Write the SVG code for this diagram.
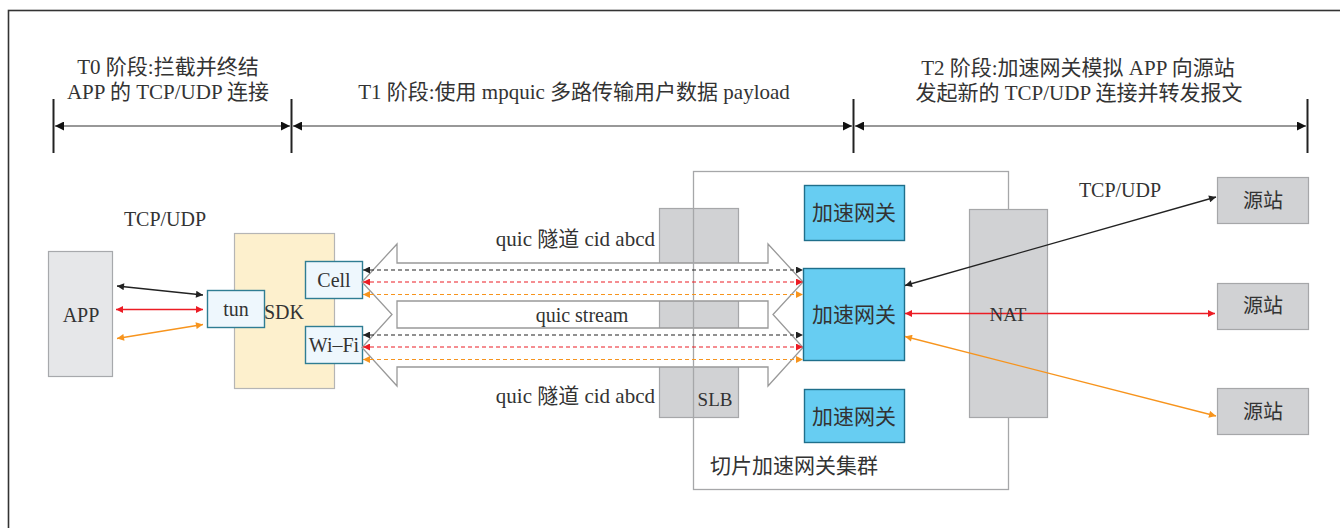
<svg xmlns="http://www.w3.org/2000/svg" width="1340" height="528" viewBox="0 0 1340 528">
  <style>
    text { font-family: 'Liberation Serif', 'Noto Sans CJK SC', serif; fill: #333; }
    .t21 { font-size: 21px; }
    .t20 { font-size: 20px; }
    .t19 { font-size: 19px; }
    .mid { text-anchor: middle; }
    .gray { fill: #d1d2d4; stroke: #a6a7a9; stroke-width: 1.2; }
    .blue { fill: #eef7fd; stroke: #2f7d93; stroke-width: 1.4; }
    .gw { fill: #67cdf2; stroke: #1f6f8b; stroke-width: 1.4; }
    .tick { stroke: #222; stroke-width: 2; }
    .phase { stroke: #333; stroke-width: 1.2; fill: none; }
    .dash { stroke-width: 1.2; stroke-dasharray: 4 3; fill: none; }
    .solid { stroke-width: 1.3; fill: none; }
    .k { stroke: #222; }
    .r { stroke: #ec1c24; }
    .o { stroke: #f7941d; }
  </style>
  <defs>
    <marker id="mPhase" viewBox="0 0 10 10" refX="10" refY="5" markerUnits="userSpaceOnUse" markerWidth="11" markerHeight="9" orient="auto-start-reverse">
      <path d="M0,0 L10,5 L0,10 Z" fill="#111"/>
    </marker>
    <marker id="mK" viewBox="0 0 10 10" refX="10" refY="5" markerUnits="userSpaceOnUse" markerWidth="9" markerHeight="7" orient="auto-start-reverse">
      <path d="M0,0 L10,5 L0,10 Z" fill="#222"/>
    </marker>
    <marker id="mR" viewBox="0 0 10 10" refX="10" refY="5" markerUnits="userSpaceOnUse" markerWidth="9" markerHeight="7" orient="auto-start-reverse">
      <path d="M0,0 L10,5 L0,10 Z" fill="#ec1c24"/>
    </marker>
    <marker id="mO" viewBox="0 0 10 10" refX="10" refY="5" markerUnits="userSpaceOnUse" markerWidth="9" markerHeight="7" orient="auto-start-reverse">
      <path d="M0,0 L10,5 L0,10 Z" fill="#f7941d"/>
    </marker>
  </defs>

  <rect width="1340" height="528" fill="#fff"/>
  <!-- outer frame -->
  <rect x="8.5" y="10.5" width="1340" height="530" fill="none" stroke="#333" stroke-width="1.6"/>

  <!-- phase timeline -->
  <g id="timeline">
    <line class="tick" x1="53.5" y1="99" x2="53.5" y2="153"/>
    <line class="tick" x1="291.5" y1="99" x2="291.5" y2="153"/>
    <line class="tick" x1="853.5" y1="99" x2="853.5" y2="153"/>
    <line class="tick" x1="1307.5" y1="99" x2="1307.5" y2="153"/>
    <line class="phase" x1="55" y1="126" x2="290" y2="126" marker-start="url(#mPhase)" marker-end="url(#mPhase)"/>
    <line class="phase" x1="293" y1="126" x2="852" y2="126" marker-start="url(#mPhase)" marker-end="url(#mPhase)"/>
    <line class="phase" x1="855" y1="126" x2="1306" y2="126" marker-start="url(#mPhase)" marker-end="url(#mPhase)"/>
    <text class="t21 mid" x="168" y="74">T0 阶段:拦截并终结</text>
    <text class="t21 mid" x="168" y="99">APP 的 TCP/UDP 连接</text>
    <text class="t21 mid" x="574" y="99">T1 阶段:使用 mpquic 多路传输用户数据 payload</text>
    <text class="t21 mid" x="1078" y="75">T2 阶段:加速网关模拟 APP 向源站</text>
    <text class="t21 mid" x="1079" y="100">发起新的 TCP/UDP 连接并转发报文</text>
  </g>

  <!-- client side -->
  <g id="app">
    <rect x="48.5" y="251.5" width="64" height="125" fill="#e6e7e9" stroke="#a7a9ac" stroke-width="1.2"/>
    <text class="t20 mid" x="81" y="322">APP</text>
  </g>
  <text class="t20 mid" x="165" y="226">TCP/UDP</text>
  <g id="sdk">
    <rect x="234.5" y="233.5" width="100" height="155" fill="#fdf0cd" stroke="#b5b5b5" stroke-width="1.2"/>
    <text class="t20 mid" x="284" y="319">SDK</text>
  </g>
  <g id="tun">
    <rect class="blue" x="207.5" y="290.5" width="57" height="37"/>
    <text class="t20 mid" x="236" y="316">tun</text>
  </g>
  <g id="cell">
    <rect class="blue" x="305.5" y="261.5" width="57" height="37"/>
    <text class="t20 mid" x="334" y="287">Cell</text>
  </g>
  <g id="wifi">
    <rect class="blue" x="305.5" y="326.5" width="57" height="37"/>
    <text class="t20 mid" x="334" y="352">Wi–Fi</text>
  </g>

  <!-- SLB -->
  <g id="slb">
    <rect class="gray" x="659.5" y="208.5" width="79" height="209"/>
    <text class="t19 mid" x="715" y="406">SLB</text>
  </g>

  <!-- quic tunnels: two hollow double arrows with the stream band between them -->
  <g id="tunnels">
    <path d="M397,263 L768,263 L768,244 L803,282 L773,314.5 L803,347.5 L768,386 L768,367 L397,367 L397,386 L362,347.5 L392,314.5 L362,282 L397,244 Z M397,301 L768,301 L768,328 L397,328 Z" fill="#fff" fill-rule="evenodd" stroke="#999" stroke-width="1.3" stroke-linejoin="miter"/>
    <text class="t21" x="655" y="246" text-anchor="end">quic 隧道 cid abcd</text>
    <text class="t20 mid" x="582" y="322">quic stream</text>
    <text class="t21" x="655" y="403" text-anchor="end">quic 隧道 cid abcd</text>
  </g>

  <!-- gateway cluster -->
  <g id="cluster">
    <rect x="693.5" y="171.5" width="315" height="318" fill="none" stroke="#a6a7a9" stroke-width="1.3"/>
    <text class="t21" x="710" y="473">切片加速网关集群</text>
  </g>
  <g id="gw-top">
    <rect class="gw" x="804.5" y="185.5" width="100" height="55"/>
    <text class="t21 mid" x="854" y="220">加速网关</text>
  </g>
  <g id="gw-main">
    <rect class="gw" x="803.5" y="268.5" width="101" height="92"/>
    <text class="t21 mid" x="854" y="322">加速网关</text>
  </g>
  <g id="gw-bottom">
    <rect class="gw" x="804.5" y="389.5" width="100" height="53"/>
    <text class="t21 mid" x="854" y="424">加速网关</text>
  </g>

  <!-- NAT -->
  <g id="nat">
    <rect class="gray" x="969.5" y="209.5" width="78" height="208"/>
  </g>

  <!-- origin servers -->
  <g id="origin-1">
    <rect class="gray" x="1217.5" y="177.5" width="91" height="46"/>
    <text class="t20 mid" x="1263" y="208">源站</text>
  </g>
  <g id="origin-2">
    <rect class="gray" x="1217.5" y="283.5" width="91" height="46"/>
    <text class="t20 mid" x="1263" y="313">源站</text>
  </g>
  <g id="origin-3">
    <rect class="gray" x="1217.5" y="388.5" width="91" height="46"/>
    <text class="t20 mid" x="1263" y="419">源站</text>
  </g>
  <text class="t20 mid" x="1120" y="197">TCP/UDP</text>

  <!-- connectors -->
  <g id="connectors">
    <!-- APP to tun -->
    <line class="solid k" x1="117" y1="286" x2="203" y2="295" marker-start="url(#mK)" marker-end="url(#mK)"/>
    <line class="solid r" x1="116" y1="309.5" x2="203" y2="309.5" marker-start="url(#mR)" marker-end="url(#mR)"/>
    <line class="solid o" x1="117" y1="338.5" x2="203" y2="324.5" marker-start="url(#mO)" marker-end="url(#mO)"/>
    <!-- Cell path flows -->
    <line class="dash k" x1="363" y1="270" x2="803" y2="270" marker-start="url(#mK)" marker-end="url(#mK)"/>
    <line class="dash r" x1="363" y1="282" x2="803" y2="282" marker-start="url(#mR)" marker-end="url(#mR)"/>
    <line class="dash o" x1="363" y1="294.5" x2="803" y2="294.5" marker-start="url(#mO)" marker-end="url(#mO)"/>
    <!-- Wi-Fi path flows -->
    <line class="dash k" x1="363" y1="335" x2="803" y2="335" marker-start="url(#mK)" marker-end="url(#mK)"/>
    <line class="dash r" x1="363" y1="347" x2="803" y2="347" marker-start="url(#mR)" marker-end="url(#mR)"/>
    <line class="dash o" x1="363" y1="359.5" x2="803" y2="359.5" marker-start="url(#mO)" marker-end="url(#mO)"/>
    <!-- gateway to origins -->
    <line class="solid k" x1="905" y1="285.5" x2="1216" y2="197" marker-start="url(#mK)" marker-end="url(#mK)"/>
    <line class="solid r" x1="905" y1="313.5" x2="1215" y2="313.5" marker-start="url(#mR)" marker-end="url(#mR)"/>
    <line class="solid o" x1="905" y1="336.5" x2="1216" y2="416" marker-start="url(#mO)" marker-end="url(#mO)"/>
  </g>

  <text class="t19 mid" x="1008" y="321">NAT</text>
</svg>
